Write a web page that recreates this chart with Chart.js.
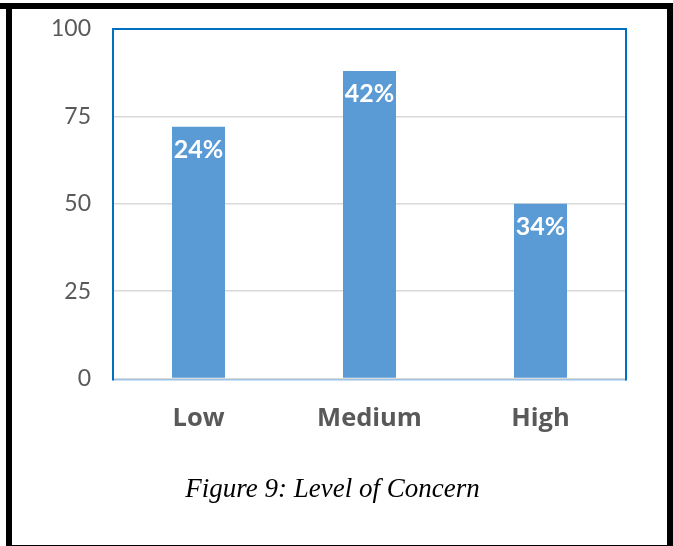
<!DOCTYPE html>
<html>
<head>
<meta charset="utf-8">
<script src="https://cdn.jsdelivr.net/npm/chart.js@4/dist/chart.umd.min.js"></script>
<style>
  html, body { margin: 0; padding: 0; background: #fff; }
  #wrap { position: relative; width: 673px; height: 546px; overflow: hidden; }
  #chart { position: absolute; left: 0; top: 0; }
  .frame { position: absolute; background: #000; }
  #caption {
    position: absolute; left: -4px; width: 673px; top: 472px;
    text-align: center; font-family: "Liberation Serif", "DejaVu Serif", serif;
    font-style: italic; font-size: 27px; color: #000; line-height: 32px;
  }
</style>
</head>
<body>
<div id="wrap">
  <canvas id="chart" width="673" height="546"></canvas>
  <div class="frame" style="left:0;top:3px;width:673px;height:6px"></div>
  <div class="frame" style="left:6px;top:9px;width:6px;height:537px"></div>
  <div class="frame" style="left:667px;top:9px;width:6px;height:537px"></div>
  <div class="frame" style="left:6px;top:545px;width:667px;height:1px"></div>
  <div id="caption">Figure 9: Level of Concern</div>
</div>
<script>
// Level of concern: respondent counts per category and the printed share labels
const categories = ["Low", "Medium", "High"];
const counts = [72, 88, 50];
const shareLabels = ["24%", "42%", "34%"];
const yTicks = [0, 25, 50, 75, 100];

const barColor = "#5B9BD5";
const axisText = "#595959";
const fontFamily = "Lato, 'Open Sans', sans-serif";
const wideFamily = "'Open Sans', Lato, sans-serif";

// Outline around the plotting area
const plotFrame = {
  id: "plotFrame",
  afterDatasetsDraw(chart) {
    const { ctx, chartArea: a } = chart;
    ctx.save();
    ctx.lineWidth = 1.5;
    ctx.strokeStyle = "#9DC3E6";
    ctx.beginPath();
    ctx.moveTo(a.left, a.bottom + 1.2);
    ctx.lineTo(a.right, a.bottom + 1.2);
    ctx.stroke();
    ctx.lineWidth = 2;
    ctx.strokeStyle = "#0070C0";
    ctx.beginPath();
    ctx.moveTo(a.left, a.bottom + 2);
    ctx.lineTo(a.left, a.top);
    ctx.lineTo(a.right, a.top);
    ctx.lineTo(a.right, a.bottom + 2);
    ctx.stroke();
    ctx.restore();
  }
};

// White share labels inside the top of each bar
const barLabels = {
  id: "barLabels",
  afterDatasetsDraw(chart) {
    const { ctx } = chart;
    const meta = chart.getDatasetMeta(0);
    ctx.save();
    ctx.fillStyle = "#ffffff";
    ctx.font = "bold 25px " + fontFamily;
    ctx.textAlign = "center";
    ctx.textBaseline = "middle";
    meta.data.forEach((bar, i) => {
      ctx.fillText(shareLabels[i], bar.x, bar.y + 23);
    });
    ctx.restore();
  }
};

new Chart(document.getElementById("chart"), {
  type: "bar",
  data: {
    labels: categories,
    datasets: [{
      data: counts,
      backgroundColor: barColor,
      borderWidth: 0,
      categoryPercentage: 1,
      barPercentage: 0.31
    }]
  },
  options: {
    responsive: false,
    animation: false,
    events: [],
    layout: { padding: { left: 0, right: 47, top: 29, bottom: 0 } },
    plugins: { legend: { display: false }, tooltip: { enabled: false } },
    scales: {
      x: {
        grid: { display: false, drawTicks: false },
        border: { display: false },
        ticks: { color: axisText, padding: 25, font: { family: wideFamily, size: 25.5, weight: "bold" } },
        afterFit(scale) {
          scale.height = 167.5;
          scale.paddingLeft = 0;
          scale.paddingRight = 0;
        }
      },
      y: {
        min: 0, max: 100,
        afterBuildTicks(scale) { scale.ticks = yTicks.map(v => ({ value: v })); },
        grid: { color: "#D9D9D9", lineWidth: 1.5, drawTicks: false },
        border: { display: false },
        ticks: { color: axisText, padding: 22, font: { family: fontFamily, size: 23 } },
        afterFit(scale) {
          scale.width = 113;
          scale.paddingTop = 0;
          scale.paddingBottom = 0;
        }
      }
    }
  },
  plugins: [plotFrame, barLabels]
});
</script>
</body>
</html>
